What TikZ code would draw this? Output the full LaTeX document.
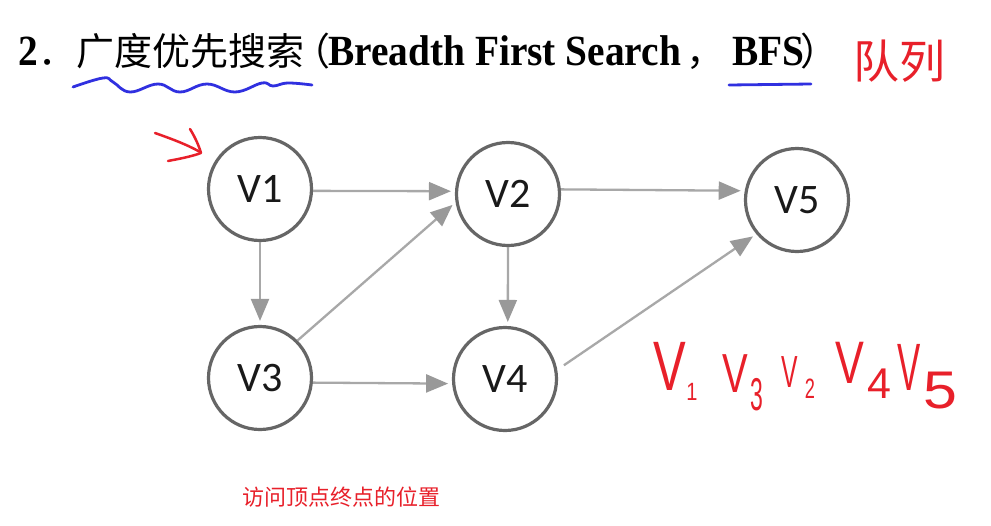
\documentclass[tikz,border=0pt]{standalone}
\usepackage{graphicx}
\usepackage{fontspec}
\setmainfont{Liberation Serif}
\newfontfamily\cjk{Noto Sans CJK SC}
\newfontfamily\nodefont{Carlito}
\newfontfamily\handfont{Liberation Sans}
\usetikzlibrary{arrows.meta}
\definecolor{hred}{HTML}{E8202A}
\definecolor{hblue}{HTML}{3030E0}
\definecolor{circgray}{HTML}{666666}
\definecolor{edgegray}{HTML}{A8A8A8}
\definecolor{tipgray}{HTML}{999999}
\newcommand\handnode[6]{\node[handtxt] (#1) at (#2,#3) {\fontsize{#4}{#4}\selectfont\scalebox{#5}[1]{#6}};}
\begin{document}
\begin{tikzpicture}[x=1pt,y=-1pt,
  ttl/.style={anchor=base west, inner sep=0pt, text=black},
  vert/.style={circle, draw=circgray, line width=3.2pt, minimum size=103pt, inner sep=0pt,
    font=\nodefont\fontsize{42}{42}\selectfont, text=black!90},
  edge/.style={draw=edgegray, line width=2.3pt,
    -{Triangle[length=22pt,width=18pt,color=tipgray]}, shorten >=4pt},
  handtxt/.style={anchor=base, inner sep=0pt, text=hred, font=\handfont},
  redpen/.style={draw=hred, line width=2.5pt, line cap=round, line join=round},
  bluepen/.style={draw=hblue, line width=2.8pt, line cap=round, line join=round}
]
\useasboundingbox[fill=white] (0,0) rectangle (991,525);

% title
\node[ttl] (t2) at (18,65) {\fontsize{41}{41}\selectfont\bfseries\scalebox{0.96}[1.05]{2}};
\node[ttl] (tcn) at (38,65) {\cjk\fontsize{38}{38}\selectfont ．广度优先搜索};
\node[ttl] (tlp) at (292,65) {\cjk\fontsize{38}{38}\selectfont （};
\node[ttl] (ten) at (328,65) {\fontsize{41}{41}\selectfont\bfseries\scalebox{0.96}[1.05]{Breadth First Search}};
\node[ttl] (tcm) at (686,65) {\cjk\fontsize{38}{38}\selectfont ，};
\node[ttl] (tbfs) at (732,65) {\fontsize{41}{41}\selectfont\bfseries\scalebox{0.96}[1.05]{BFS}};
\node[ttl] (trp) at (800,65) {\cjk\fontsize{38}{38}\selectfont ）};

% blue annotations
\draw[bluepen] plot[smooth, tension=0.7] coordinates {(73,87) (103,78) (113,82) (130,92) (158,84) (180,92) (207,84) (235,92) (262,83) (273,86) (288,83) (312,85)};
\coordinate (ul1) at (729,85);
\coordinate (ul2) at (811,84);
\draw[bluepen] (ul1) -- (ul2);

% red handwriting: queue
\node[anchor=base west, inner sep=0pt, text=hred] (queue) at (853,78) {\cjk\fontsize{46}{46}\selectfont 队列};

% red arrow pointing to V1
\coordinate (ra1) at (155,133);
\coordinate (ra2) at (200,152);
\coordinate (rh1) at (190,129);
\coordinate (rtip) at (201,153);
\coordinate (rh2) at (168,161);
\draw[redpen] (ra1) .. controls (172,139) and (188,145) .. (ra2);
\draw[redpen] (rh1) .. controls (195,137) and (199,146) .. (rtip) .. controls (190,157) and (178,159) .. (rh2);

% graph
\node[vert] (v1) at (260,189) {V1};
\node[vert] (v2) at (508,194) {V2};
\node[vert] (v3) at (260,378) {V3};
\node[vert] (v4) at (505,379) {V4};
\node[vert] (v5) at (797,200) {V5};

\draw[edge] (v1.-2) -- (v2.177);
\draw[edge] (v3.45) -- (v2.189);
\draw[edge] (v1.south) -- (v3.north);
\draw[edge] (v2.-90) -- (v4.87);
\draw[edge] (v3.-5) -- (v4.185);
\draw[edge] (v2.5) -- (v5.170);
\draw[edge, shorten <=8pt] (v4.10) -- (v5.220);

% red handwritten order
\handnode{h1}{670}{390}{70}{0.7}{V}
\handnode{h1s}{692}{400}{25}{0.8}{1}
\handnode{h3}{735}{392}{55}{0.7}{V}
\handnode{h3s}{757}{410}{46}{0.5}{3}
\handnode{h2}{790}{387}{45}{0.55}{V}
\handnode{h2s}{810}{398}{28}{0.65}{2}
\handnode{h4}{850}{383}{60}{0.72}{V}
\handnode{h4s}{879}{398}{43}{1.0}{4}
\handnode{h5}{909}{390}{67}{0.52}{V}
\handnode{h5s}{940}{408}{53}{1.15}{5}

% bottom note
\node[anchor=base west, inner sep=0pt, text=hred] (note) at (242,505) {\cjk\fontsize{22}{22}\selectfont 访问顶点终点的位置};
\end{tikzpicture}
\end{document}
